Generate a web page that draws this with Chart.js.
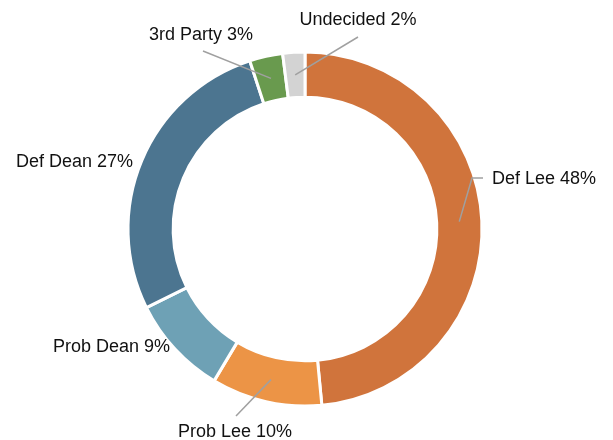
<!DOCTYPE html>
<html>
<head>
<meta charset="utf-8">
<script src="https://cdn.jsdelivr.net/npm/chart.js@4"></script>
<style>
  html, body { margin: 0; padding: 0; background: #fff; }
  #wrap { width: 613px; height: 440px; }
</style>
</head>
<body>
<div id="wrap"><canvas id="pollChart" width="613" height="440"></canvas></div>
<script>
/* ---------- data ---------- */
const categories = ["Def Lee", "Prob Lee", "Prob Dean", "Def Dean", "3rd Party", "Undecided"];
const shares = [48, 10, 9, 27, 3, 2];
const sliceColors = ["#d0743c", "#ec9446", "#6ea1b5", "#4c7590", "#699a4e", "#d3d3d3"];

/* ---------- label layout (offsets from chart centre) ---------- */
// end: where the leader line stops, tick: optional horizontal tick end,
// text: where the label sits, align: text alignment
const labelLayout = [
  { end: [167, -51], tick: [178, -51], text: [187, -50], align: "left" },
  { end: [-69, 187], text: [-70, 203], align: "center" },
  { text: [-135, 118], align: "right" },
  { text: [-172, -67], align: "right" },
  { end: [-102, -178], text: [-104, -194], align: "center" },
  { end: [53, -192], text: [53, -209], align: "center" },
];

/* ---------- outside labels with leader lines ---------- */
const outerLabels = {
  id: "outerLabels",
  afterDatasetsDraw(chart) {
    const { ctx } = chart;
    const meta = chart.getDatasetMeta(0);
    ctx.save();
    meta.data.forEach((arc, i) => {
      const p = arc.getProps(["x", "y", "startAngle", "endAngle", "innerRadius", "outerRadius"], true);
      const lay = labelLayout[i];
      if (lay.end) {
        const mid = (p.startAngle + p.endAngle) / 2;
        const r = (p.innerRadius + p.outerRadius) / 2;
        ctx.beginPath();
        ctx.moveTo(p.x + Math.cos(mid) * r, p.y + Math.sin(mid) * r);
        ctx.lineTo(p.x + lay.end[0], p.y + lay.end[1]);
        if (lay.tick) ctx.lineTo(p.x + lay.tick[0], p.y + lay.tick[1]);
        ctx.strokeStyle = "#a0a0a0";
        ctx.lineWidth = 1.5;
        ctx.stroke();
      }
      ctx.fillStyle = "#111";
      ctx.font = '18px "Liberation Sans", Arial, sans-serif';
      ctx.textAlign = lay.align;
      ctx.textBaseline = "middle";
      ctx.fillText(categories[i] + " " + shares[i] + "%", p.x + lay.text[0], p.y + lay.text[1]);
    });
    ctx.restore();
  },
};

/* ---------- chart ---------- */
new Chart(document.getElementById("pollChart"), {
  type: "doughnut",
  data: {
    labels: categories,
    datasets: [
      {
        data: shares,
        backgroundColor: sliceColors,
        borderColor: "#ffffff",
        borderWidth: 3,
        hoverOffset: 0,
      },
    ],
  },
  options: {
    responsive: false,
    animation: false,
    radius: 177,
    cutout: "74.5%",
    layout: { padding: { top: 20, bottom: 2, left: 0, right: 3 } },
    plugins: {
      legend: { display: false },
      tooltip: { enabled: false },
    },
  },
  plugins: [outerLabels],
});
</script>
</body>
</html>
